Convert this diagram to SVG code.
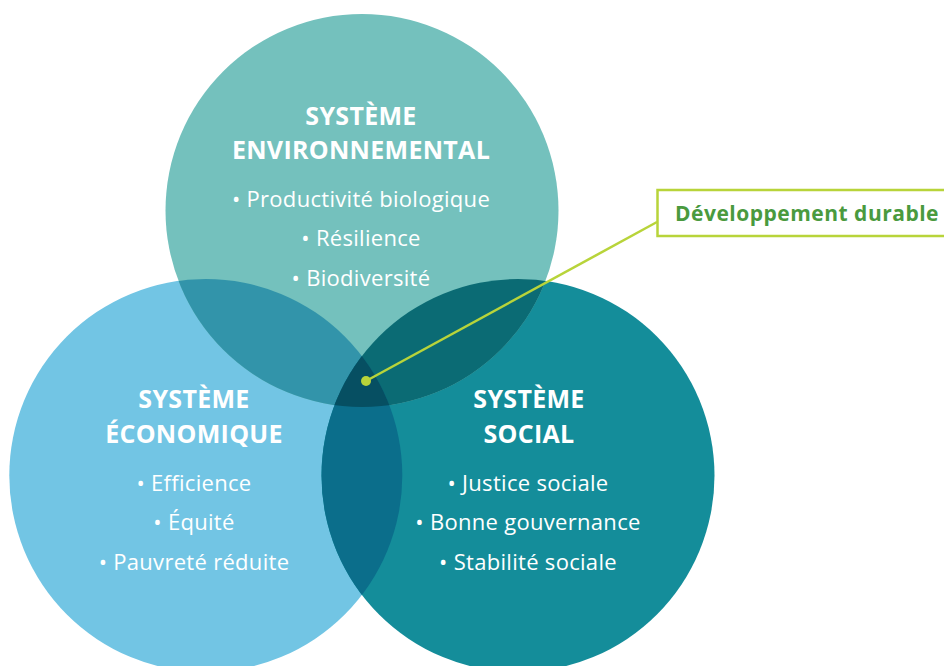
<svg xmlns="http://www.w3.org/2000/svg" width="944" height="666" viewBox="0 0 944 666">
<style>
.title{font-family:"Open Sans","Liberation Sans",sans-serif;font-weight:700;font-size:25px;letter-spacing:0.3px;fill:#fff;text-anchor:middle}
.item{font-family:"Open Sans","Liberation Sans",sans-serif;font-weight:400;font-size:22px;letter-spacing:0.3px;fill:#fff;text-anchor:middle}
.lbl{font-family:"Open Sans","Liberation Sans",sans-serif;font-weight:700;font-size:21px;letter-spacing:0.5px;fill:#4A9A3E}
</style>
<defs>
<clipPath id="cTop"><circle cx="362" cy="210.5" r="196.5"/></clipPath>
<clipPath id="cLeft"><circle cx="205.8" cy="475.5" r="196.5"/></clipPath>
<clipPath id="cRight"><circle cx="518" cy="475.5" r="196.5"/></clipPath>
</defs>
<rect width="944" height="666" fill="#fff"/>
<g id="node-economique">
<circle cx="205.8" cy="475.5" r="196.5" fill="#72C5E4"/>
</g>
<g id="node-social">
<circle cx="518" cy="475.5" r="196.5" fill="#148D9A"/>
</g>
<g id="node-environnemental">
<circle cx="362" cy="210.5" r="196.5" fill="#74C1BD"/>
</g>
<g id="overlaps">
<circle cx="205.8" cy="475.5" r="196.5" fill="#3294AA" clip-path="url(#cTop)"/>
<circle cx="518" cy="475.5" r="196.5" fill="#0B6B74" clip-path="url(#cTop)"/>
<circle cx="518" cy="475.5" r="196.5" fill="#0B6E8B" clip-path="url(#cLeft)"/>
<g clip-path="url(#cTop)"><circle cx="518" cy="475.5" r="196.5" fill="#064F62" clip-path="url(#cLeft)"/></g>
</g>
<g id="text-environnemental">
<text class="title" x="361" y="125">SYSTÈME</text>
<text class="title" x="361" y="159">ENVIRONNEMENTAL</text>
<text class="item" x="361" y="207">• Productivité biologique</text>
<text class="item" x="361" y="246">• Résilience</text>
<text class="item" x="361" y="286">• Biodiversité</text>
</g>
<g id="text-economique">
<text class="title" x="194" y="408">SYSTÈME</text>
<text class="title" x="194" y="443">ÉCONOMIQUE</text>
<text class="item" x="194" y="491">• Efficience</text>
<text class="item" x="194" y="530">• Équité</text>
<text class="item" x="194" y="570">• Pauvreté réduite</text>
</g>
<g id="text-social">
<text class="title" x="529" y="408">SYSTÈME</text>
<text class="title" x="529" y="443">SOCIAL</text>
<text class="item" x="528" y="491">• Justice sociale</text>
<text class="item" x="528" y="530">• Bonne gouvernance</text>
<text class="item" x="528" y="570">• Stabilité sociale</text>
</g>
<g id="connectors">
<line x1="366" y1="381" x2="657" y2="222" stroke="#B8D43A" stroke-width="2.5"/>
<circle cx="366" cy="381" r="5" fill="#B8D43A"/>
</g>
<g id="node-developpement">
<rect x="657.5" y="190" width="300" height="46" fill="#fff" stroke="#B8D43A" stroke-width="2.5"/>
<text class="lbl" x="675" y="221">Développement durable</text>
</g>
</svg>
